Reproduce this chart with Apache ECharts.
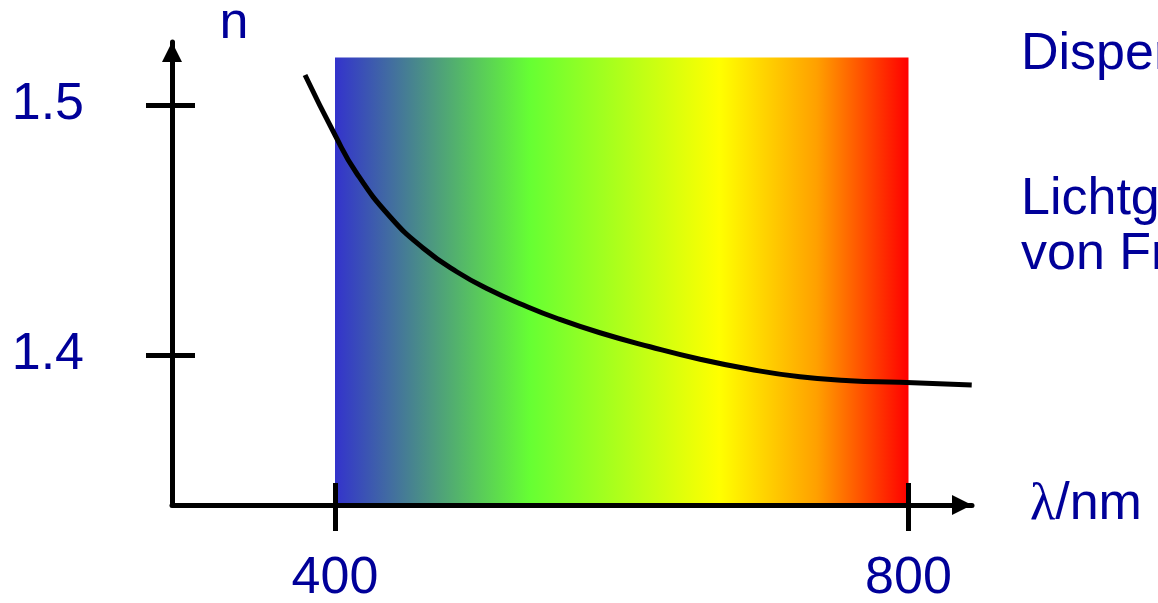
<!DOCTYPE html>
<html>
<head>
<meta charset="utf-8">
<title>Dispersion</title>
<script src="https://cdn.jsdelivr.net/npm/echarts@6/dist/echarts.min.js"></script>
<style>
  html, body { margin: 0; padding: 0; background: #fff; }
  #chart { width: 1158px; height: 603px; }
</style>
</head>
<body>
<div id="chart"></div>
<script>
// wavelength (nm) and refractive index n
const wavelengths = [379.1, 400, 415.1, 438.4, 461.6, 484.9, 508.1, 531.3, 554.6, 584.8, 619.7, 654.6, 689.4, 724.3, 759.2, 794.1, 844.1];
const refractiveIndex = [1.512, 1.488, 1.4727, 1.4553, 1.4427, 1.4333, 1.426, 1.42, 1.4147, 1.4089, 1.4033, 1.3983, 1.3943, 1.3913, 1.3897, 1.3891, 1.388];

const xTicks = [400, 800];
const yTicks = [1.4, 1.5];

// visible spectrum band
const spectrumFrom = 400;
const spectrumTo = 800;
const spectrumTop = 1.519;

const xMin = 286.31, xMax = 844.29;
const yMin = 1.34, yMax = 1.5252;

const textColor = '#000099';
const font = 'Liberation Sans, Arial, sans-serif';

const chart = echarts.init(document.getElementById('chart'));

const baseX = {
  type: 'value',
  min: xMin,
  max: xMax,
  position: 'bottom',
  splitLine: { show: false },
  z: 5
};
const baseY = {
  type: 'value',
  min: yMin,
  max: yMax,
  position: 'left',
  splitLine: { show: false },
  z: 5
};

const option = {
  animation: false,
  grid: { left: 172, right: 186, top: 42, bottom: 98, containLabel: false, outerBoundsMode: 'none' },
  xAxis: [
    Object.assign({}, baseX, {
      name: '{l|λ}/nm',
      nameLocation: 'end',
      nameGap: 58,
      nameTextStyle: {
        color: textColor,
        fontSize: 52,
        fontFamily: font,
        rich: { l: { fontFamily: 'Liberation Serif, serif', fontSize: 52, color: textColor } }
      },
      axisLine: {
        lineStyle: { color: '#000', width: 5 },
        symbol: ['none', 'triangle'],
        symbolSize: [20, 20],
        symbolOffset: [0, -10]
      },
      axisTick: { show: true, inside: false, length: 26, customValues: xTicks, lineStyle: { color: '#000', width: 5 } },
      axisLabel: { customValues: xTicks, margin: 48, color: textColor, fontSize: 52, fontFamily: font }
    }),
    Object.assign({}, baseX, {
      axisLine: { show: false },
      axisTick: { show: true, inside: true, length: 22, customValues: xTicks, lineStyle: { color: '#000', width: 5 } },
      axisLabel: { show: false }
    })
  ],
  yAxis: [
    Object.assign({}, baseY, {
      axisLine: {
        lineStyle: { color: '#000', width: 5 },
        symbol: ['none', 'triangle'],
        symbolSize: [20, 20],
        symbolOffset: [0, -10]
      },
      axisTick: { show: true, inside: false, length: 26, customValues: yTicks, lineStyle: { color: '#000', width: 5 } },
      axisLabel: { customValues: yTicks, margin: 88, color: textColor, fontSize: 52, fontFamily: font }
    }),
    Object.assign({}, baseY, {
      axisLine: { show: false },
      axisTick: { show: true, inside: true, length: 23, customValues: yTicks, lineStyle: { color: '#000', width: 5 } },
      axisLabel: { show: false }
    })
  ],
  graphic: [
    { type: 'text', x: 234, y: 24, style: { text: 'n', fill: textColor, font: '52px ' + font, align: 'center', verticalAlign: 'middle' } },
    { type: 'text', x: 1021, y: 55, style: { text: 'Dispersion', fill: textColor, font: '52px ' + font, verticalAlign: 'middle' } },
    { type: 'text', x: 1021, y: 200, style: { text: 'Lichtgeschwindigkeit', fill: textColor, font: '52px ' + font, verticalAlign: 'middle' } },
    { type: 'text', x: 1021, y: 255, style: { text: 'von Frequenz', fill: textColor, font: '52px ' + font, verticalAlign: 'middle' } }
  ],
  series: [
    {
      type: 'line',
      xAxisIndex: 0,
      yAxisIndex: 0,
      data: wavelengths.map((w, i) => [w, refractiveIndex[i]]),
      smooth: true,
      showSymbol: false,
      symbol: 'none',
      clip: false,
      lineStyle: { color: '#000', width: 5 },
      z: 4,
      markArea: {
        silent: true,
        itemStyle: {
          color: new echarts.graphic.LinearGradient(0, 0, 1, 0, [
            { offset: 0, color: '#3333cc' },
            { offset: 0.34, color: '#66ff33' },
            { offset: 0.67, color: '#ffff00' },
            { offset: 0.84, color: '#ffa000' },
            { offset: 1, color: '#ff0000' }
          ])
        },
        data: [[{ xAxis: spectrumFrom, yAxis: yMin }, { xAxis: spectrumTo, yAxis: spectrumTop }]]
      }
    }
  ]
};

chart.setOption(option);
</script>
</body>
</html>
